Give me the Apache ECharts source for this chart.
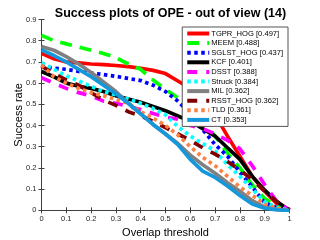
<!DOCTYPE html>
<html>
<head>
<meta charset="utf-8">
<script src="https://cdn.jsdelivr.net/npm/echarts@6/dist/echarts.min.js"></script>
<style>html,body{margin:0;padding:0;background:#fff;}#c{width:320px;height:240px;}</style>
</head>
<body>
<div id="c"></div>
<script>
const thresholds = [0,0.05,0.1,0.15,0.2,0.25,0.3,0.35,0.4,0.45,0.5,0.55,0.6,0.65,0.7,0.75,0.8,0.85,0.9,0.95,1];
const xTickLabels = ['0','0.1','0.2','0.3','0.4','0.5','0.6','0.7','0.8','0.9','1'];
const yTickLabels = ['0','0.1','0.2','0.3','0.4','0.5','0.6','0.7','0.8','0.9'];
const trackerNames = ['TGPR_HOG [0.497]','MEEM [0.488]','SGLST_HOG [0.437]','KCF [0.401]','DSST [0.388]','Struck [0.384]','MIL [0.362]','RSST_HOG [0.362]','TLD [0.361]','CT [0.353]'];
const tgprHog = [0.74,0.715,0.70,0.695,0.69,0.687,0.683,0.678,0.67,0.66,0.645,0.61,0.575,0.52,0.45,0.35,0.255,0.16,0.09,0.03,0];
const meem    = [0.825,0.80,0.785,0.77,0.755,0.74,0.72,0.69,0.665,0.615,0.57,0.53,0.48,0.42,0.35,0.27,0.20,0.12,0.055,0.02,0];
const sglstHog= [0.68,0.67,0.665,0.655,0.648,0.64,0.632,0.622,0.612,0.59,0.56,0.515,0.455,0.38,0.31,0.255,0.18,0.11,0.035,0.012,0];
const kcf     = [0.655,0.63,0.60,0.585,0.575,0.56,0.54,0.525,0.51,0.49,0.47,0.445,0.42,0.385,0.35,0.295,0.24,0.16,0.095,0.04,0];
const dsst    = [0.625,0.60,0.575,0.555,0.54,0.515,0.505,0.49,0.475,0.457,0.44,0.43,0.40,0.385,0.36,0.33,0.29,0.21,0.12,0.04,0];
const struck  = [0.695,0.665,0.635,0.61,0.585,0.56,0.545,0.525,0.505,0.48,0.45,0.395,0.35,0.315,0.28,0.215,0.16,0.10,0.04,0.012,0];
const mil     = [0.772,0.755,0.725,0.69,0.65,0.605,0.56,0.505,0.455,0.405,0.36,0.315,0.26,0.215,0.175,0.13,0.09,0.045,0.015,0.005,0];
const rsstHog = [0.68,0.645,0.615,0.59,0.555,0.52,0.495,0.465,0.445,0.42,0.39,0.36,0.33,0.295,0.265,0.23,0.19,0.145,0.09,0.04,0];
const tld     = [0.685,0.63,0.60,0.575,0.555,0.54,0.522,0.505,0.465,0.435,0.40,0.355,0.30,0.25,0.21,0.16,0.11,0.07,0.03,0.008,0];
const ct      = [0.756,0.73,0.70,0.665,0.63,0.59,0.55,0.505,0.455,0.405,0.36,0.31,0.24,0.185,0.155,0.115,0.07,0.03,0.01,0.002,0];

const seriesValues = [tgprHog, meem, sglstHog, kcf, dsst, struck, mil, rsstHog, tld, ct];
const colors = ['#ff0000','#00ff00','#0000ff','#000000','#ff00ff','#00ffff','#808080','#7f0000','#ff8040','#1597dc'];
const dashes = ['solid',[12,8],[3.5,3.5],'solid',[10,9],[3.5,3.5],'solid',[10,9],[3.5,3.5],'solid'];

const font = 'Liberation Sans, Arial, Helvetica, sans-serif';
const axisColor = '#404040';

const series = seriesValues.map((vals, i) => ({
  name: trackerNames[i],
  type: 'line',
  data: thresholds.map((t, j) => [t, vals[j]]),
  showSymbol: false,
  symbol: 'none',
  smooth: false,
  animation: false,
  lineStyle: { color: colors[i], width: 3.7, type: dashes[i], cap: 'butt' },
  itemStyle: { color: colors[i] }
}));

const chart = echarts.init(document.getElementById('c'), null, { renderer: 'canvas' });
chart.setOption({
  animation: false,
  backgroundColor: '#ffffff',
  title: {
    text: 'Success plots of OPE - out of view (14)',
    left: 165.5, top: 2, textAlign: 'center',
    textStyle: { fontFamily: font, fontSize: 12.5, fontWeight: 'bold', color: '#000' }
  },
  grid: { left: 41.5, right: 30.5, top: 19.5, bottom: 29.7, containLabel: false, outerBoundsMode: 'none' },
  legend: {
    orient: 'vertical', right: 32, top: 27,
    itemWidth: 22, itemHeight: 8, itemGap: 0.6,
    padding: [2, 5, 2, 3],
    backgroundColor: '#ffffff', borderColor: '#555', borderWidth: 1, borderRadius: 0,
    itemStyle: { opacity: 0, borderWidth: 0 },
    lineStyle: { width: 4 },
    textStyle: { fontFamily: font, fontSize: 7.6, color: '#000', lineHeight: 9, padding: [0,0,0,-3] },
    data: trackerNames
  },
  xAxis: [{
    type: 'value', min: 0, max: 1, interval: 0.1,
    name: 'Overlap threshold', nameLocation: 'middle', nameGap: 17, nameMoveOverlap: false,
    nameTextStyle: { fontFamily: font, fontSize: 11, color: '#000' },
    axisLine: { show: true, lineStyle: { color: axisColor, width: 1 } },
    axisTick: { show: true, inside: true, length: 3, lineStyle: { color: axisColor } },
    axisLabel: { fontFamily: font, fontSize: 7.5, color: '#262626', margin: 5,
      formatter: v => xTickLabels[Math.round(v * 10)] },
    splitLine: { show: false }
  }, {
    type: 'value', min: 0, max: 1, interval: 0.1, position: 'top',
    axisLine: { show: true, lineStyle: { color: axisColor, width: 1 } },
    axisTick: { show: true, inside: true, length: 3, lineStyle: { color: axisColor } },
    axisLabel: { show: false }, splitLine: { show: false }
  }],
  yAxis: [{
    type: 'value', min: 0, max: 0.9, interval: 0.1,
    name: 'Success rate', nameLocation: 'middle', nameGap: 17, nameMoveOverlap: false,
    nameTextStyle: { fontFamily: font, fontSize: 11, color: '#000', verticalAlign: 'bottom' },
    axisLine: { show: true, lineStyle: { color: axisColor, width: 1 } },
    axisTick: { show: true, inside: true, length: 3, lineStyle: { color: axisColor } },
    axisLabel: { fontFamily: font, fontSize: 7.5, color: '#262626', margin: 5,
      formatter: v => yTickLabels[Math.round(v * 10)] },
    splitLine: { show: false }
  }, {
    type: 'value', min: 0, max: 0.9, interval: 0.1, position: 'right',
    axisLine: { show: true, lineStyle: { color: axisColor, width: 1 } },
    axisTick: { show: true, inside: true, length: 3, lineStyle: { color: axisColor } },
    axisLabel: { show: false }, splitLine: { show: false }
  }],
  series: series
});
</script>
</body>
</html>
